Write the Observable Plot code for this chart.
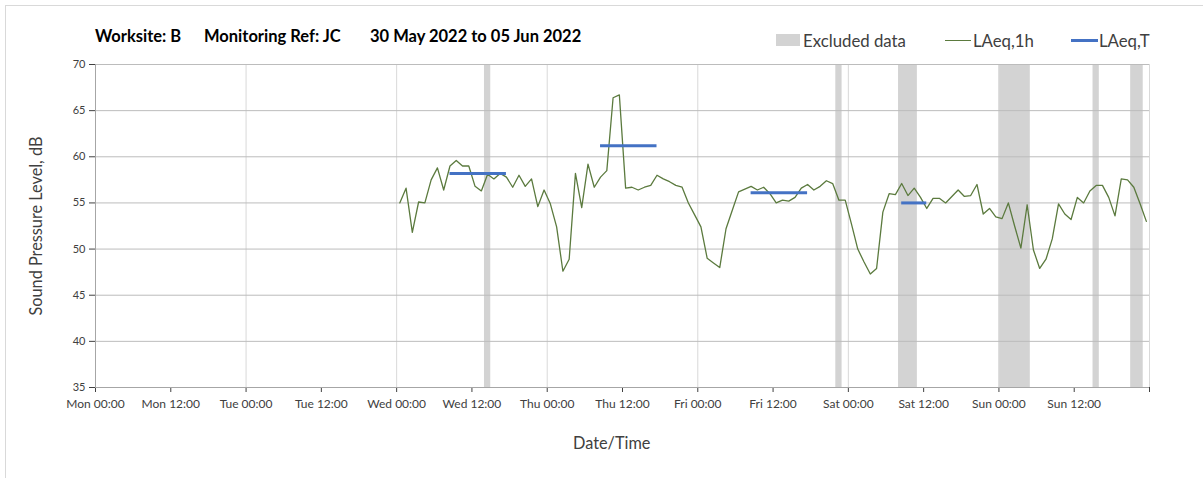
<!DOCTYPE html>
<html><head><meta charset="utf-8">
<script src="https://cdn.jsdelivr.net/npm/d3@7"></script>
<script src="https://cdn.jsdelivr.net/npm/@observablehq/plot@0.6"></script>
<style>
body{margin:0;background:#fff;}
#wrap{position:relative;width:1203px;height:478px;overflow:hidden;font-family:Lato,"Open Sans",sans-serif;background:#fff;}
#border{position:absolute;left:5px;top:5px;width:1400px;height:600px;border:1px solid #d9d9d9;box-sizing:border-box;}
#chart{position:absolute;left:0;top:0;}
.t{position:absolute;top:26px;font-weight:700;font-size:16.5px;color:#000;white-space:nowrap;}
.lg{position:absolute;top:30px;font-size:16.8px;color:#404040;white-space:nowrap;}
.sw{position:absolute;}
.axl{position:absolute;font-size:16.3px;color:#404040;white-space:nowrap;}
svg g[aria-label="y-axis tick label"] text{font-size:11px;}
</style>
</head><body>
<div id="wrap">
  <div id="border"></div>
  <div id="chart"></div>
  <div class="t" id="t1" style="left:95px"></div>
  <div class="t" id="t2" style="left:204px"></div>
  <div class="t" id="t3" style="left:370px"></div>
  <div class="sw" style="left:776px;top:34px;width:24px;height:12px;background:#d3d3d3"></div>
  <div class="lg" id="lg1" style="left:803px"></div>
  <div class="sw" style="left:945px;top:39.5px;width:26px;height:1.3px;background:#5b7a3e"></div>
  <div class="lg" id="lg2" style="left:973px"></div>
  <div class="sw" style="left:1071px;top:38.5px;width:27px;height:3px;background:#4472c4"></div>
  <div class="lg" id="lg3" style="left:1099px"></div>
  <div class="axl" id="xl" style="left:573px;top:433px"></div>
  <div class="axl" id="yl" style="left:35px;top:226px;transform:translate(-50%,-50%) rotate(-90deg);"></div>
</div>
<script>
// ---- Text ----
const titleParts = ["Worksite: B", "Monitoring Ref: JC", "30 May 2022 to 05 Jun 2022"];
const legendLabels = ["Excluded data", "LAeq,1h", "LAeq,T"];
const xAxisLabel = "Date/Time";
const yAxisLabel = "Sound Pressure Level, dB";

// ---- Hourly LAeq,1h values (hour 00..23 of each day) ----
const measuredDays = ["2022-06-01", "2022-06-02", "2022-06-03", "2022-06-04", "2022-06-05"];
const wedValues = [55.0, 56.6, 51.8, 55.1, 55.0, 57.5, 58.8, 56.4, 59.0, 59.6, 59.0, 59.0,
                   56.8, 56.3, 58.1, 57.6, 58.2, 57.8, 56.7, 58.0, 56.8, 57.6, 54.6, 56.4];
const thuValues = [54.9, 52.4, 47.6, 48.9, 58.2, 54.5, 59.2, 56.7, 57.8, 58.5, 66.4, 66.7,
                   56.6, 56.7, 56.4, 56.7, 56.9, 58.0, 57.6, 57.3, 56.9, 56.7, 55.0, 53.7];
const friValues = [52.4, 49.0, 48.5, 48.0, 52.2, 54.2, 56.2, 56.5, 56.8, 56.4, 56.7, 56.0,
                   55.0, 55.3, 55.2, 55.6, 56.6, 57.0, 56.4, 56.8, 57.4, 57.1, 55.3, 55.3];
const satValues = [52.7, 50.0, 48.6, 47.3, 47.9, 54.0, 56.0, 55.9, 57.1, 55.8, 56.6, 55.6,
                   54.4, 55.5, 55.5, 55.0, 55.7, 56.4, 55.7, 55.8, 57.0, 53.8, 54.4, 53.5];
const sunValues = [53.3, 55.0, 52.5, 50.1, 54.8, 49.9, 47.9, 48.9, 51.1, 54.9, 53.8, 53.2,
                   55.6, 55.0, 56.3, 56.9, 56.9, 55.6, 53.6, 57.6, 57.5, 56.7, 54.9, 53.0];

// ---- LAeq,T periods ----
const ltStart = ["2022-06-01T08:30Z", "2022-06-02T08:30Z", "2022-06-03T08:30Z", "2022-06-04T08:30Z"];
const ltEnd   = ["2022-06-01T17:30Z", "2022-06-02T17:30Z", "2022-06-03T17:30Z", "2022-06-04T12:30Z"];
const ltValue = [58.2, 61.2, 56.1, 55.0];

// ---- Excluded data periods ----
const exStart = ["2022-06-01T14:00Z", "2022-06-03T22:00Z", "2022-06-04T08:00Z", "2022-06-05T00:00Z", "2022-06-05T15:00Z", "2022-06-05T21:00Z"];
const exEnd   = ["2022-06-01T15:00Z", "2022-06-03T23:00Z", "2022-06-04T11:00Z", "2022-06-05T05:00Z", "2022-06-05T16:00Z", "2022-06-05T23:00Z"];

// ---- Axes ----
const xStart = "2022-05-30T00:00Z", xEnd = "2022-06-06T00:00Z";
const yTicks = [35, 40, 45, 50, 55, 60, 65, 70];

// ---- Build tables ----
const dayArrays = [wedValues, thuValues, friValues, satValues, sunValues];
const hourly = [];
measuredDays.forEach((d, i) => {
  dayArrays[i].forEach((v, h) => {
    hourly.push({t: new Date(`${d}T${String(h).padStart(2, "0")}:30Z`), v});
  });
});
const lt = ltValue.map((v, i) => ({x1: new Date(ltStart[i]), x2: new Date(ltEnd[i]), v}));
const ex = exStart.map((s, i) => ({x1: new Date(s), x2: new Date(exEnd[i])}));
const x0 = new Date(xStart), x1 = new Date(xEnd);
const xTicks = d3.utcHour.every(12).range(x0, new Date(+x1 + 1));
const dayGrid = d3.utcDay.range(d3.utcDay.offset(x0, 1), new Date(+x1 + 1));
const fmt = d3.utcFormat("%a %H:%M");

const chart = Plot.plot({
  width: 1203, height: 478,
  marginLeft: 95, marginRight: 54, marginTop: 64, marginBottom: 91,
  style: {fontFamily: "Lato, 'Open Sans', sans-serif", fontSize: "12px", color: "#404040", background: "transparent"},
  x: {type: "utc", domain: [x0, x1], ticks: xTicks, tickFormat: d => (+d === +x1 ? "" : fmt(d)), tickSize: 5, tickPadding: 7, label: null},
  y: {domain: [35, 70], ticks: yTicks, tickSize: 6, tickPadding: 4, label: null},
  marks: [
    Plot.rect(ex, {x1: "x1", x2: "x2", fill: "#d3d3d3"}),
    Plot.ruleX(dayGrid, {stroke: "#d9d9d9", strokeWidth: 1}),
    Plot.ruleY(yTicks.filter(v => v > 35), {stroke: "#bcbcbc", strokeWidth: 1}),
    Plot.ruleX([x0], {stroke: "#a6a6a6"}),
    Plot.ruleY([35], {stroke: "#a6a6a6"}),
    Plot.line(hourly, {x: "t", y: "v", stroke: "#5b7a3e", strokeWidth: 1.3}),
    Plot.ruleY(lt, {y: "v", x1: "x1", x2: "x2", stroke: "#4472c4", strokeWidth: 3})
  ]
});
document.getElementById("chart").appendChild(chart);
document.getElementById("t1").textContent = titleParts[0];
document.getElementById("t2").textContent = titleParts[1];
document.getElementById("t3").textContent = titleParts[2];
document.getElementById("lg1").textContent = legendLabels[0];
document.getElementById("lg2").textContent = legendLabels[1];
document.getElementById("lg3").textContent = legendLabels[2];
document.getElementById("xl").textContent = xAxisLabel;
document.getElementById("yl").textContent = yAxisLabel;
</script>
</body></html>
